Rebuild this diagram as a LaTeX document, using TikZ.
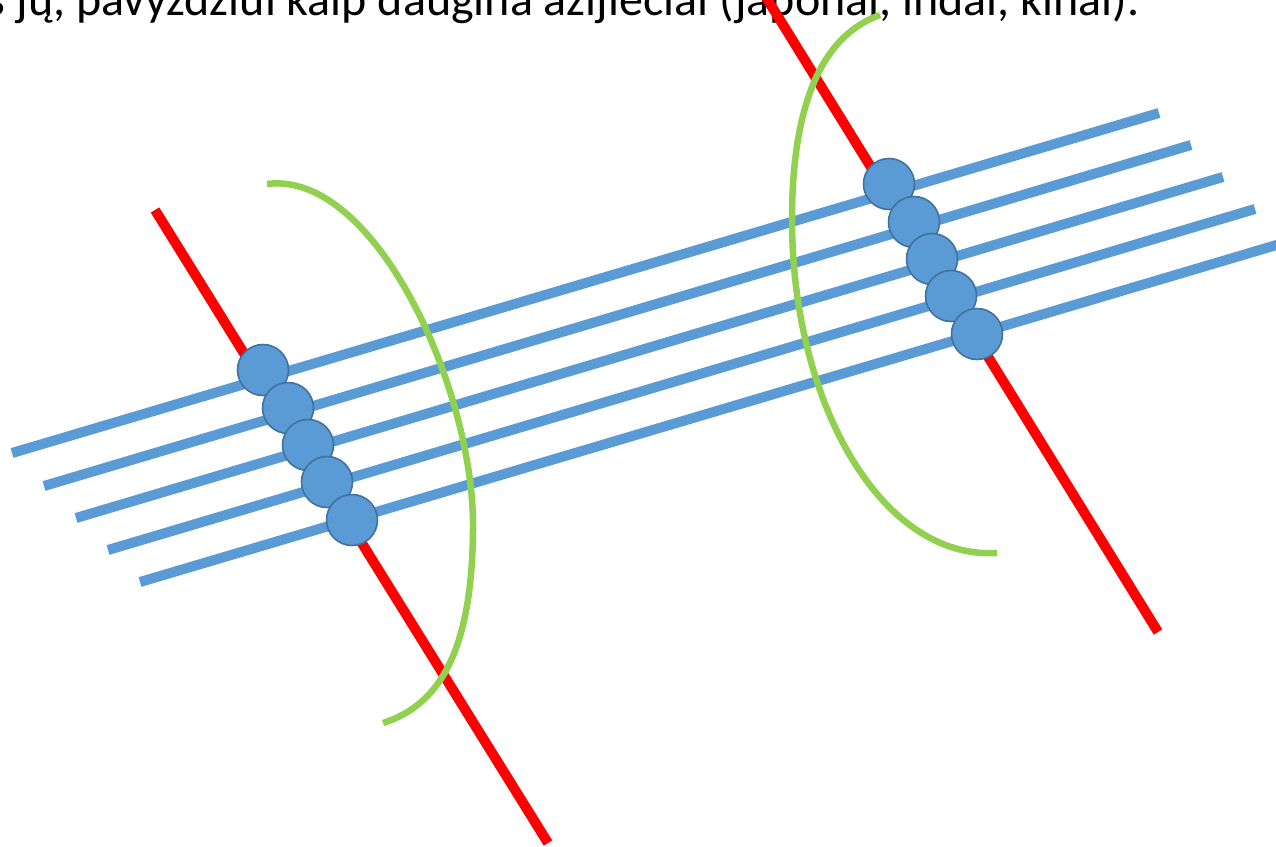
\documentclass[tikz,border=0pt]{standalone}
\usepackage{fontspec}
\setmainfont{Carlito}
\definecolor{blueln}{HTML}{5B9BD5}
\definecolor{bluedk}{HTML}{41719C}
\definecolor{redln}{HTML}{FF0000}
\definecolor{greenln}{HTML}{92D050}
\begin{document}
\begin{tikzpicture}[x=1pt,y=-1pt,
  bead/.style={circle, minimum size=51pt, inner sep=0pt, fill=blueln, draw=bluedk, line width=1.6pt},
  strand/.style={blueln, line width=10pt},
  axisline/.style={redln, line width=10pt},
  spindle/.style={greenln, line width=6.5pt}]
\useasboundingbox (0,0) rectangle (1276,846);
\node[anchor=base east, inner sep=0pt, font=\fontsize{48}{56}\selectfont] (txt) at (1140,15) {s jų, pavyzdžiui kaip daugina azijiečiai (japonai, indai, kinai).};
% red axes
\coordinate (ra1) at (155,210); \coordinate (ra2) at (548,843);
\coordinate (rb1) at (764,-6); \coordinate (rb2) at (1158,632);
\draw[axisline] (ra1) -- (ra2);
\draw[axisline] (rb1) -- (rb2);
% blue strands
\coordinate (s1a) at (12,453);  \coordinate (s1b) at (1159,113);
\coordinate (s2a) at (44,486);  \coordinate (s2b) at (1191,145);
\coordinate (s3a) at (76,518);  \coordinate (s3b) at (1223,177);
\coordinate (s4a) at (108,550); \coordinate (s4b) at (1255,209);
\coordinate (s5a) at (140,582); \coordinate (s5b) at (1290,241);
\draw[strand] (s1a) -- (s1b);
\draw[strand] (s2a) -- (s2b);
\draw[strand] (s3a) -- (s3b);
\draw[strand] (s4a) -- (s4b);
\draw[strand] (s5a) -- (s5b);
% beads
\node[bead] (l1) at (263,370) {};
\node[bead] (l2) at (288,408) {};
\node[bead] (l3) at (308,445) {};
\node[bead] (l4) at (327,482) {};
\node[bead] (l5) at (352,520) {};
\node[bead] (r1) at (889,184) {};
\node[bead] (r2) at (914,222) {};
\node[bead] (r3) at (932,259) {};
\node[bead] (r4) at (951,296) {};
\node[bead] (r5) at (977,334) {};
% spindles
\coordinate (ga) at (267,184); \coordinate (gb) at (473,530); \coordinate (gc) at (383,723);
\coordinate (ha) at (880,15); \coordinate (hb) at (792,220); \coordinate (hc) at (997,553);
\draw[spindle] (ga) .. controls (375,170) and (475,390) .. (gb)
                    .. controls (472,650) and (440,705) .. (gc);
\draw[spindle] (ha) .. controls (810,40) and (792,130) .. (hb)
                    .. controls (792,400) and (880,560) .. (hc);
\end{tikzpicture}
\end{document}
